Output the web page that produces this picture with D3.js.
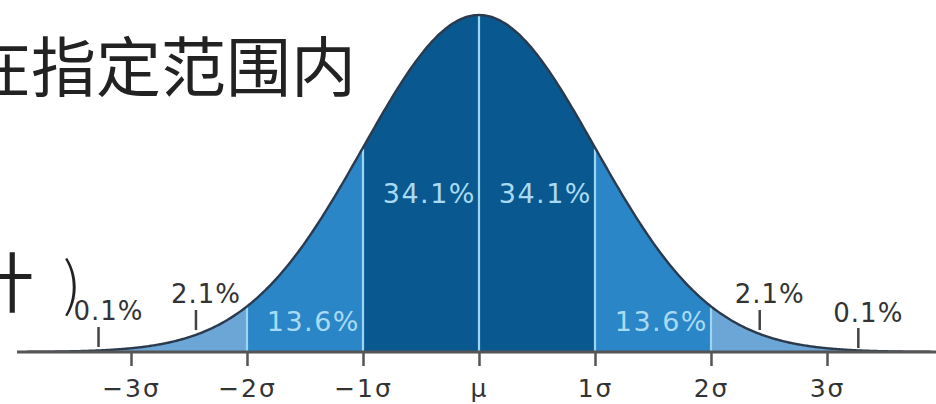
<!DOCTYPE html>
<html><head><meta charset="utf-8">
<script src="https://cdn.jsdelivr.net/npm/d3@7"></script>
<style>html,body{margin:0;padding:0;background:#fff;overflow:hidden}svg{display:block}</style>
</head><body>
<svg id="c" width="936" height="404"></svg>
<script>
// ---- data ----
const sigmaTicks = [-3, -2, -1, 0, 1, 2, 3];
const tickLabels = ["\u22123\u03c3", "\u22122\u03c3", "\u22121\u03c3", "\u03bc", "1\u03c3", "2\u03c3", "3\u03c3"];
const bandStarts = [-4, -2, -1, 0, 1, 2];
const bandEnds   = [-2, -1, 0, 1, 2, 4];
const bandLevel  = [0, 1, 2, 2, 1, 0];
const dividers   = [-2, -1, 0, 1, 2];
const insideLabels = ["13.6%", "34.1%", "34.1%", "13.6%"];
const insideEnds   = [-1, 0, 1, 2];
const outsideLabels = ["0.1%", "2.1%", "2.1%", "0.1%"];
const outsidePointers = [-3.28, -2.44, 2.42, 3.27];
const textLine1 = "在指定范围内";
const textLine2a = "计";
const textLine2b = ")";

// ---- style ----
const bandColors = ["#6ca6d6", "#2a86c6", "#09588f"];
const W = 936, H = 404;
const svg = d3.select("#c");

const mu = 479, sd = 116;
const x = d3.scaleLinear().domain([-4, 4]).range([mu - 4 * sd, mu + 4 * sd]);
const pdf = t => Math.exp(-t * t / 2) / Math.sqrt(2 * Math.PI);
const y = d3.scaleLinear().domain([0, pdf(0)]).range([352, 15]);

// bands
bandStarts.forEach((s, i) => {
  const e = bandEnds[i];
  const pts = d3.range(s, e + 1e-9, 0.01).concat([e]);
  const area = d3.area().x(d => x(d)).y0(y(0)).y1(d => y(pdf(d)));
  svg.append("path").attr("d", area(pts)).attr("fill", bandColors[bandLevel[i]]);
});

// dividers
dividers.forEach(d => {
  svg.append("line").attr("x1", x(d)).attr("x2", x(d))
    .attr("y1", y(0)).attr("y2", y(pdf(d)) + 1)
    .attr("stroke", "#9cd6f2").attr("stroke-width", 2.2);
});

// curve outline
const line = d3.line().x(d => x(d)).y(d => y(pdf(d))).curve(d3.curveBasis);
svg.append("path").attr("d", line(d3.range(-3.9, 3.9001, 0.02)))
  .attr("fill", "none").attr("stroke", "#2b3a4c").attr("stroke-width", 2.4);

// axis
const axis = d3.axisBottom(x).tickValues(sigmaTicks)
  .tickFormat((d, i) => tickLabels[i]).tickSize(14).tickSizeOuter(0);
const g = svg.append("g").attr("transform", `translate(0,${y(0)})`).call(axis);
g.select(".domain").remove();
g.selectAll(".tick line").attr("stroke", "#555").attr("stroke-width", 2.5);
g.selectAll(".tick text").attr("y", 45).attr("dy", 0)
  .attr("font-family", "DejaVu Sans").attr("font-size", 25).attr("fill", "#333")
  .attr("letter-spacing", 2);
svg.append("line").attr("x1", 17).attr("x2", W).attr("y1", y(0)).attr("y2", y(0))
  .attr("stroke", "#555").attr("stroke-width", 3);

// inside labels
const insideBase = [331, 203, 203, 331];
insideLabels.forEach((t, i) => {
  svg.append("text").attr("x", x(insideEnds[i]) - 3).attr("y", insideBase[i])
    .attr("text-anchor", "end").attr("font-family", "DejaVu Sans").attr("font-size", 27)
    .attr("letter-spacing", 1.5).attr("fill", "#a9daf3").text(t);
});

// outside labels with pointer ticks
const ptrTop = [327, 310, 310, 328];
const lblBase = [320, 303, 303, 322];
outsideLabels.forEach((t, i) => {
  const px = x(outsidePointers[i]);
  svg.append("line").attr("x1", px).attr("x2", px).attr("y1", ptrTop[i]).attr("y2", ptrTop[i] + 20)
    .attr("stroke", "#444").attr("stroke-width", 2.5);
  svg.append("text").attr("x", px + 10).attr("y", lblBase[i]).attr("text-anchor", "middle")
    .attr("font-family", "DejaVu Sans").attr("font-size", 26).attr("letter-spacing", 1)
    .attr("fill", "#333").text(t);
});

// Chinese text fragments
svg.append("text").attr("x", -34).attr("y", 91)
  .attr("font-family", "Noto Sans CJK SC").attr("font-size", 65).attr("fill", "#222")
  .text(textLine1);
svg.append("text").attr("x", -31).attr("y", 307)
  .attr("font-family", "Noto Sans CJK SC").attr("font-size", 65).attr("fill", "#222")
  .text(textLine2a);
svg.append("text").attr("x", 63).attr("y", 305)
  .attr("font-family", "Noto Sans CJK SC").attr("font-size", 58).attr("font-weight", 300).attr("fill", "#222")
  .text(textLine2b);
</script>
</body></html>
